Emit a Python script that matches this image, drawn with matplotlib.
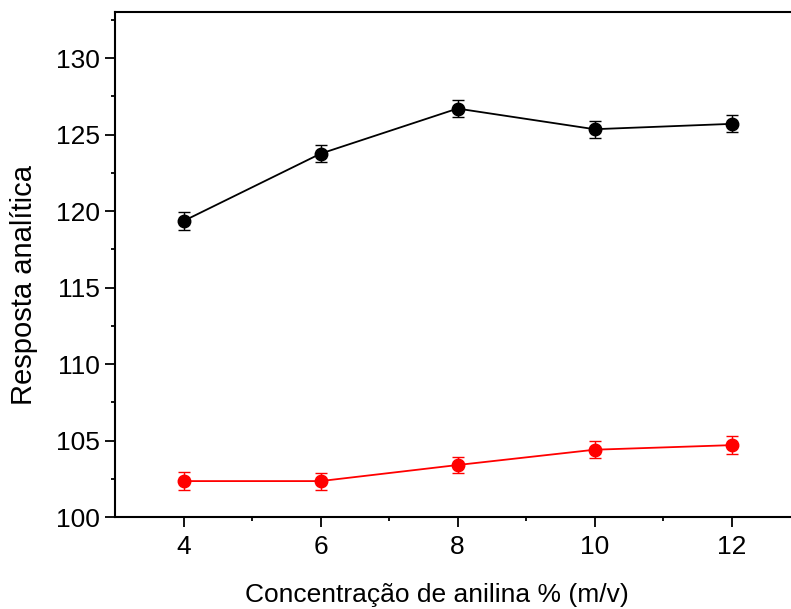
import matplotlib.pyplot as plt
import numpy as np

plt.rcParams['font.family'] = ['Liberation Sans', 'DejaVu Sans']

conc = [4, 6, 8, 10, 12]
resp_black = [119.35, 123.75, 126.7, 125.35, 125.7]
err_black = [0.6, 0.55, 0.55, 0.55, 0.55]
resp_red = [102.35, 102.35, 103.4, 104.4, 104.7]
err_red = [0.6, 0.55, 0.55, 0.55, 0.6]

fig = plt.figure(figsize=(7.91, 6.09), dpi=100)
ax = fig.add_axes([0.1454, 0.151, 0.866, 0.829])

ax.errorbar(conc, resp_black, yerr=err_black, color='black', marker='o', ms=9,
            lw=1.3, capsize=4, elinewidth=1, capthick=1)
ax.errorbar(conc, resp_red, yerr=err_red, color='red', marker='o', ms=9,
            lw=1.3, capsize=4, elinewidth=1, capthick=1)

ax.set_xlim(3, 13)
ax.set_ylim(100, 133)
ax.set_xticks([4, 6, 8, 10, 12])
ax.set_xticks([5, 7, 9, 11], minor=True)
ax.set_yticks([100, 105, 110, 115, 120, 125, 130])
ax.set_yticks(np.arange(102.5, 133, 5), minor=True)
ax.tick_params(which='major', direction='out', length=7, width=1.3, labelsize=19)
ax.tick_params(axis='y', which='major', pad=4)
ax.tick_params(axis='x', which='major', pad=6)
ax.tick_params(which='minor', direction='out', length=3, width=1.3)
for s in ax.spines.values():
    s.set_linewidth(1.5)

ax.set_xlabel('Concentração de anilina % (m/v)', fontsize=19)
ax.set_ylabel('Resposta analítica', fontsize=21)
ax.xaxis.set_label_coords(0.47, -0.131)
ax.yaxis.set_label_coords(-0.112, 0.459)

fig.savefig('out.png', dpi=100)
